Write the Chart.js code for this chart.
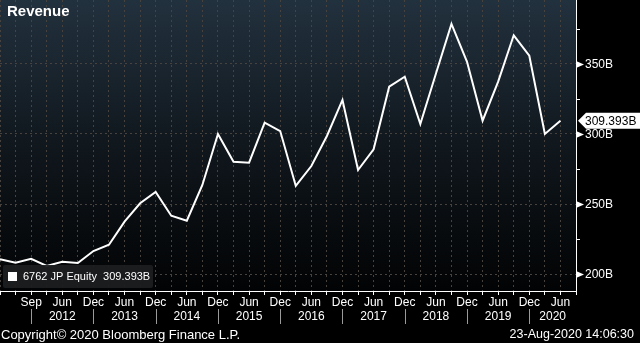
<!DOCTYPE html>
<html>
<head>
<meta charset="utf-8">
<script src="https://cdn.jsdelivr.net/npm/chart.js@4.4.0/dist/chart.umd.min.js"></script>
<style>
html, body { margin: 0; padding: 0; background: #000; }
#wrap { width: 640px; height: 343px; position: relative; }
</style>
</head>
<body>
<div id="wrap"><canvas id="revenueChart"></canvas></div>
<script>
// quarter ends; the last slot is left empty so the line stops short of the axis
const quarters = [
    'Jun 2011', 'Sep 2011', 'Dec 2011', 'Mar 2012', 'Jun 2012', 'Sep 2012', 'Dec 2012',
    'Mar 2013', 'Jun 2013', 'Sep 2013', 'Dec 2013', 'Mar 2014', 'Jun 2014', 'Sep 2014',
    'Dec 2014', 'Mar 2015', 'Jun 2015', 'Sep 2015', 'Dec 2015', 'Mar 2016', 'Jun 2016',
    'Sep 2016', 'Dec 2016', 'Mar 2017', 'Jun 2017', 'Sep 2017', 'Dec 2017', 'Mar 2018',
    'Jun 2018', 'Sep 2018', 'Dec 2018', 'Mar 2019', 'Jun 2019', 'Sep 2019', 'Dec 2019',
    'Mar 2020', 'Jun 2020', 'Sep 2020'
];

// revenue, billions of yen
const revenue = [
    210.5, 208.1, 210.9, 205.7, 208.8, 207.9, 216.4, 220.9, 237.4, 250.5,
    258.6, 241.6, 238.1, 263.6, 300.0, 280.2, 279.5, 308.1, 302.1, 262.9,
    277.1, 298.6, 324.3, 274.3, 289.1, 333.8, 340.9, 307.1, 343.0, 378.6,
    351.6, 309.5, 337.4, 370.5, 355.9, 300.0, 309.393, null
];

const monthTicks = [
    '', '', 'Sep', '', 'Jun', '', 'Dec', '', 'Jun', '', 'Dec', '', 'Jun', '',
    'Dec', '', 'Jun', '', 'Dec', '', 'Jun', '', 'Dec', '', 'Jun', '', 'Dec', '',
    'Jun', '', 'Dec', '', 'Jun', '', 'Dec', '', 'Jun', ''
];

const yTicks = [200, 225, 250, 275, 300, 325, 350, 375];

const seriesName = '6762 JP Equity';
const lastValue = 309.393;
const lastLabel = '309.393B';

const FONT = '"Liberation Sans", Arial, sans-serif';

const bloombergPlugin = {
    id: 'bloombergFrame',
    beforeDraw(chart) {
        const ctx = chart.ctx;
        const a = chart.chartArea;
        ctx.save();
        ctx.fillStyle = '#000';
        ctx.fillRect(0, 0, chart.width, chart.height);
        let g = ctx.createLinearGradient(0, a.top, 0, a.bottom);
        g.addColorStop(0, '#22313e');
        g.addColorStop(0.5, '#10171d');
        g.addColorStop(1, '#020304');
        ctx.fillStyle = g;
        ctx.fillRect(a.left, a.top, a.right - a.left, a.bottom - a.top);
        ctx.restore();
    },
    afterDraw(chart) {
        const ctx = chart.ctx;
        const a = chart.chartArea;
        const xs = chart.scales.x;
        const ys = chart.scales.y;
        ctx.save();

        // title
        ctx.fillStyle = '#fff';
        ctx.font = 'bold 15px ' + FONT;
        ctx.textBaseline = 'middle';
        ctx.textAlign = 'left';
        ctx.fillText('Revenue', 7, 12);

        // legend box
        ctx.fillStyle = 'rgba(28,30,32,0.95)';
        ctx.beginPath();
        ctx.roundRect(3, 265, 150, 23, 2);
        ctx.fill();
        ctx.fillStyle = '#fff';
        ctx.fillRect(8, 272, 9, 9);
        ctx.font = '11px ' + FONT;
        ctx.fillText(seriesName + '  ' + lastLabel, 23, 277);

        // year bands: each starts at the December before it
        let starts = [];
        quarters.forEach((q, i) => { if (q.startsWith('Dec')) starts.push(i); });
        ctx.strokeStyle = '#9a9a9a';
        ctx.lineWidth = 1;
        ctx.textAlign = 'center';
        ctx.fillStyle = '#fff';
        ctx.font = '12px ' + FONT;
        starts.forEach((s, n) => {
            const x0 = xs.getPixelForValue(s);
            const x1 = n + 1 < starts.length ? xs.getPixelForValue(starts[n + 1]) : a.right;
            ctx.beginPath();
            ctx.moveTo(Math.round(x0) + 0.5, 309);
            ctx.lineTo(Math.round(x0) + 0.5, 324);
            ctx.stroke();
            const yr = parseInt(quarters[s].slice(4)) + 1;
            ctx.fillText(String(yr), (x0 + x1) / 2, 317);
        });

        // right axis: short marks for minors, arrowheads and labels for majors
        ctx.fillStyle = '#fff';
        ctx.strokeStyle = '#fff';
        ctx.textAlign = 'left';
        yTicks.forEach(v => {
            const y = Math.round(ys.getPixelForValue(v)) + 0.5;
            if (v % 50 === 0) {
                ctx.beginPath();
                ctx.moveTo(a.right, y - 3.5);
                ctx.lineTo(a.right + 8, y);
                ctx.lineTo(a.right, y + 3.5);
                ctx.closePath();
                ctx.fill();
                ctx.fillText(v + 'B', a.right + 9, y);
            } else {
                ctx.beginPath();
                ctx.moveTo(a.right, y);
                ctx.lineTo(a.right + 4, y);
                ctx.stroke();
            }
        });

        // last value flag
        const ly = ys.getPixelForValue(lastValue);
        ctx.fillStyle = '#fff';
        ctx.beginPath();
        ctx.moveTo(a.right + 2, ly);
        ctx.lineTo(a.right + 10, ly - 8);
        ctx.lineTo(chart.width, ly - 8);
        ctx.lineTo(chart.width, ly + 8);
        ctx.lineTo(a.right + 10, ly + 8);
        ctx.closePath();
        ctx.fill();
        ctx.fillStyle = '#000';
        ctx.fillText(lastLabel, a.right + 9, ly + 1);

        // footer
        ctx.fillStyle = '#fff';
        ctx.font = '13px ' + FONT;
        ctx.fillText('Copyright\u00a9 2020 Bloomberg Finance L.P.', 1, 335);
        ctx.textAlign = 'right';
        ctx.font = '12.5px ' + FONT;
        ctx.fillText('23-Aug-2020 14:06:30', 634, 335);
        ctx.restore();
    }
};

const gridColor = '#47423e';

new Chart(document.getElementById('revenueChart'), {
    type: 'line',
    data: {
        labels: quarters,
        datasets: [{
            label: seriesName,
            data: revenue,
            borderColor: '#fff',
            borderWidth: 2,
            pointRadius: 0,
            tension: 0,
            fill: false
        }]
    },
    options: {
        responsive: true,
        maintainAspectRatio: false,
        animation: false,
        layout: { padding: 0 },
        plugins: {
            legend: { display: false },
            tooltip: { enabled: false }
        },
        scales: {
            x: {
                offset: false,
                grid: {
                    color: gridColor,
                    lineWidth: 1,
                    drawTicks: true,
                    tickLength: 4,
                    tickColor: '#fff',
                    tickBorderDash: []
                },
                border: { color: '#fff', width: 1, dash: [2, 3] },
                ticks: {
                    autoSkip: false,
                    maxRotation: 0,
                    padding: 0,
                    color: '#fff',
                    font: { family: FONT, size: 12 },
                    callback: (v, i) => monthTicks[i]
                },
                afterFit: s => { s.height = 52; }
            },
            y: {
                position: 'right',
                min: 187.86,
                max: 395.71,
                afterBuildTicks: s => {
                    s.ticks = yTicks.map(v => ({ value: v }));
                },
                grid: {
                    drawTicks: false,
                    color: c => (c.tick && c.tick.value % 50 === 0) ? gridColor : 'transparent'
                },
                border: { color: '#fff', width: 1, dash: [2, 3] },
                ticks: { display: false },
                afterFit: s => { s.width = 64; }
            }
        }
    },
    plugins: [bloombergPlugin]
});
</script>
</body>
</html>
